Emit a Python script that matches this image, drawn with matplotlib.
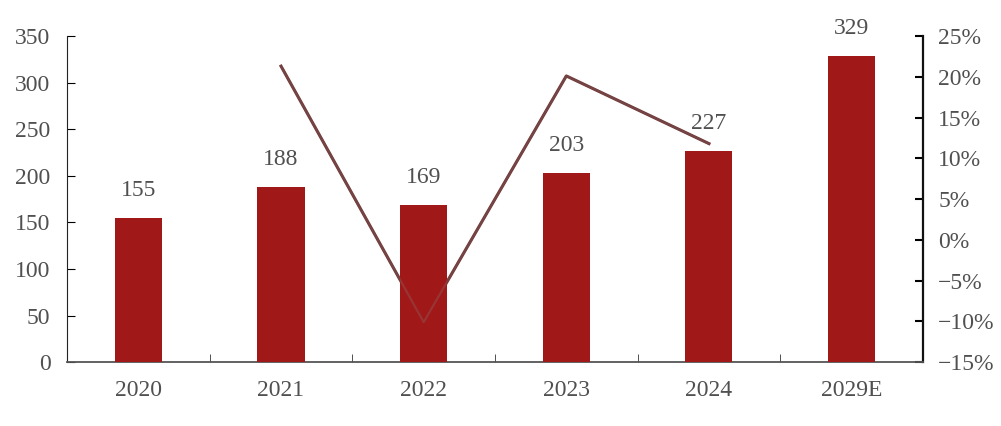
import numpy as np
import matplotlib.pyplot as plt
from matplotlib.ticker import FuncFormatter

years = ['2020', '2021', '2022', '2023', '2024', '2029E']
sales = [155, 188, 169, 203, 227, 329]
growth_years = ['2021', '2022', '2023', '2024']
growth = [21.3, -10.1, 20.1, 11.8]

bar_color = '#A01818'
line_color = '#6B3030'
text_color = '#505050'

plt.rcParams['font.family'] = ['Liberation Serif', 'DejaVu Serif']

fig = plt.figure(figsize=(10.01, 4.26), dpi=100)
ax = fig.add_axes([0.067, 0.150, 0.855, 0.7655])
ax2 = ax.twinx()

x = np.arange(len(years))
ax.bar(x, sales, width=0.33, color=bar_color, zorder=3)
for xi, v in zip(x, sales):
    ax.annotate(str(v), (xi, v), xytext=(0, 12), textcoords='offset points',
                ha='center', va='bottom', fontsize=17, color=text_color)

gx = [years.index(y) for y in growth_years]
ax2.plot(gx, growth, color=line_color, lw=2.2, zorder=1)
# faint trace of the line through the bars
ax.plot(gx, np.array(growth) * 350 / 40 + 15 * 350 / 40, color='#8A6A6A',
        lw=1.6, alpha=0.35, zorder=4)

# bars sit on top of the growth line
ax.set_zorder(2)
ax.patch.set_visible(False)

ax.set_xlim(-0.5, len(years) - 0.5)
ax.set_ylim(0, 350)
ax.set_yticks(range(0, 351, 50))
ax2.set_ylim(-15, 25)
ax2.set_yticks(range(-15, 26, 5))
ax2.yaxis.set_major_formatter(FuncFormatter(lambda v, p: f'{v:.0f}%'.replace('-', '\u2212')))

ax.set_xticks(x)
ax.set_xticklabels(years)
ax.set_xticks(np.arange(0.5, len(years) - 1, 1), minor=True)
ax.tick_params(axis='x', which='major', length=0, pad=13, labelsize=17, labelcolor=text_color)
ax.tick_params(axis='x', which='minor', direction='in', length=6, color='#333333')
ax.tick_params(axis='y', direction='in', length=6, pad=12, labelsize=17, labelcolor=text_color)
ax2.tick_params(axis='y', direction='in', length=6, width=1.5, pad=11, labelsize=17, labelcolor=text_color)

for a in (ax, ax2):
    a.spines['top'].set_visible(False)
ax.spines['right'].set_visible(False)
ax2.spines['left'].set_visible(False)
ax2.spines['bottom'].set_visible(False)
ax.spines['left'].set_color('#222222')
ax.spines['bottom'].set_color('#555555')
ax.spines['bottom'].set_linewidth(1.3)
ax2.spines['right'].set_color('#111111')
ax2.spines['right'].set_linewidth(1.6)

fig.savefig('out.png', dpi=100)
